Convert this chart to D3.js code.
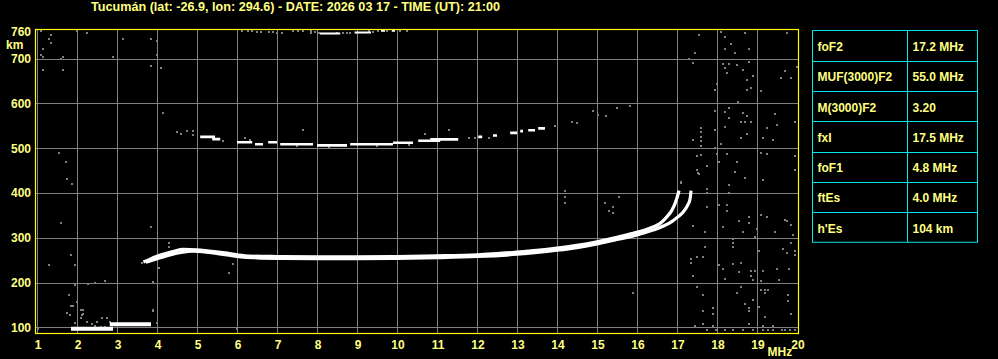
<!DOCTYPE html>
<html><head><meta charset="utf-8">
<script src="https://cdn.jsdelivr.net/npm/d3@7"></script>
<style>
html,body{margin:0;padding:0;background:#000;}
svg{display:block;}
text{font-family:"Liberation Sans",Arial,sans-serif;font-weight:bold;}
</style></head>
<body>
<svg id="c" width="998" height="359"></svg>
<script>
// ---------- data ----------
const title = "Tucumán (lat: -26.9, lon: 294.6) - DATE: 2026 03 17 - TIME (UT): 21:00";
const freqTicks = [1,2,3,4,5,6,7,8,9,10,11,12,13,14,15,16,17,18,19,20];
const heightTicks = [100,200,300,400,500,600,700,760];
const paramNames = ["foF2","MUF(3000)F2","M(3000)F2","fxI","foF1","ftEs","h'Es"];
const paramValues = ["17.2 MHz","55.0 MHz","3.20","17.5 MHz","4.8 MHz","4.0 MHz","104 km"];

// F-layer ordinary trace [MHz, km]
const traceO = [[3.66,246],[3.8,251],[3.95,257],[4.15,263],[4.4,269],[4.65,274],[5.0,273],[5.3,270],[5.7,266],[6.0,262],[6.3,259],[7,258],[8,257.5],[9,257.5],[10,258],[11,259.5],[12,262],[12.5,264.5],[13,268],[13.5,272],[14,277],[14.5,283],[15,291],[15.5,301],[15.9,310],[16.2,317],[16.4,324],[16.58,332],[16.74,346],[16.87,361],[16.95,376],[17.0,389],[17.05,405]];
// F-layer extraordinary trace [MHz, km]
const traceX = [[3.72,245],[4.0,253],[4.3,261],[4.6,267],[4.9,270],[5.3,267],[5.7,262],[6.1,257],[6.5,255],[7,254],[8,253.5],[9,253.5],[10,254],[11,255.5],[12,258],[13,263],[13.5,267],[14,272],[14.5,278],[15.0,286],[15.5,296],[16.0,306],[16.4,317],[16.66,326],[16.87,336],[17.03,347],[17.16,358],[17.27,373],[17.33,388],[17.35,405]];
// sporadic E segments [fStart, fEnd, km]
const esSegments = [[1.85,2.9,97],[2.82,3.85,107]];
// second-hop F echo segments [fStart, fEnd, km]
const f2Segments = [[5.08,5.45,525],[5.38,5.58,520],[6.0,6.38,513],[6.45,6.65,508.5],[6.78,7.0,513],[7.08,7.9,508.5],[8.0,8.75,506],[8.83,9.9,508.5],[9.9,10.4,512],[10.53,11.08,516.5],[10.83,11.53,519.5],[12.03,12.13,525],[12.4,12.5,528],[12.83,13.0,534],[13.08,13.15,538],[13.28,13.45,540],[13.53,13.7,544]];
// third-hop echo segments [fStart, fEnd, km]
const f3Segments = [[8.07,8.58,756],[8.94,9.35,758],[9.6,9.7,762],[9.87,9.95,762]];
// faint echoes / noise [MHz, km]
const noisePts = [
[17.55,753],[18.09,760],[18.2,748],[18.7,757],[19.74,757],[18.34,732],[18.2,722],[18.45,712],[18.8,722],[17.45,712],[17.3,699],[17.39,690],[18.14,688],[18.3,688],[18.49,686],[18.8,692],[18.2,679],[18.24,668],[18.64,675],[18.89,661],[18.74,653],[18.84,634],[18.74,630],[17.95,630],[17.99,643],[19.09,627],[19.7,671],[19.59,656],[19.84,656],[19.99,682],
[18.53,603],[17.95,582],[18.31,589],[18.2,580],[18.31,567],[18.64,578],[18.74,571],[18.6,558],[18.7,558],[18.84,558],[19.45,576],[19.49,552],[19.24,545],[19.95,558],[18.2,546],[18.74,531],[18.6,523],[19.14,523],[19.39,519],[17.6,545],[17.6,535],[17.6,525],[17.6,515],[17.6,505],[17.95,541],[17.4,519],[18.09,509],[17.95,500],
[17.49,483],[17.6,485],[17.99,487],[18.24,487],[19.09,489],[19.24,487],[19.95,483],[18.05,469],[18.49,469],[17.74,461],[17.49,452],[17.55,443],[18.45,447],[19.95,452],[18.7,433],[19.14,429],[17.1,422],[18.3,418],[17.74,409],[17.74,400],[18.3,400],
[17.74,368],[18.05,374],[18.24,374],[18.24,360],[18.8,346],[19.09,351],[19.24,346],[19.7,340],[19.76,337],[19.84,329],[17.39,327],[18.56,337],[18.8,333],[18.14,324],[17.7,312],[18.64,312],[19.0,319],[19.45,312],[19.89,307],[18.95,302],
[18.39,296],[18.39,288],[18.39,279],[17.7,279],[19.84,288],[19.64,275],[19.95,271],[19.74,266],[19.95,262],[19.05,271],[17.49,258],[17.64,257],[17.35,252],[17.35,243],[18.05,240],[18.39,242],[18.59,243],[18.14,231],[18.56,223],[18.84,226],[18.95,226],[19.14,226],[19.49,231],[19.8,231],
[17.39,214],[18.84,214],[18.89,206],[19.09,204],[19.55,206],[18.2,208],[18.6,191],[18.49,177],[17.49,189],[19.09,184],[19.2,184],[19.28,184],[19.2,177],[17.64,173],[19.78,173],[18.89,162],[18.7,153],[18.8,143],[19.05,145],[19.78,158],[17.89,143],[17.89,130],[17.64,136],[18.8,136],[19.2,122],[19.84,130],[17.64,108],[17.45,102],[17.91,104],[18.8,108],[19.16,102],[19.41,104],
[17.74,94],[17.98,94],[18.2,94],[18.41,94],[18.66,94],[18.89,94],[19.16,94],[19.28,94],[19.39,94],[19.62,94],[19.7,94],[19.83,94],[19.95,94],
[14.2,405],[14.2,391],[14.2,378],[15.2,377],[15.39,369],[15.3,360],[15.39,356],[15.55,391],[17.09,425],[17.53,444],[17.74,369],[17.41,326],[15.9,177],
[1.09,762],[1.34,753],[1.3,743],[1.34,735],[1.14,721],[1.09,708],[1.14,704],[1.64,703],[1.6,699],[1.14,674],[1.64,674],[2.01,762],[2.24,758],[3.14,743],[2.89,704],[3.85,743],[3.99,739],[3.99,708],[3.85,684],[4.1,678],
[1.95,194],[2.28,197],[2.45,200],[2.7,203],[1.8,172],[1.85,148],[1.89,147],[1.99,157],[2.1,139],[2.14,129],[1.74,131],[2.1,120],[2.24,112],[2.49,112],[2.62,120],[2.74,120],[2.83,112],[3.89,137],[3.99,109],[1.03,96],[3.89,202],[5.99,96],[1.83,127],[1.95,109],[2.12,127],[2.16,139],[2.37,107],[3.91,139],[2.6,100],[2.7,101],[2.45,103],
[1.55,490],[1.72,468],[1.88,420],[1.75,432],[1.6,332],[1.85,262],[1.95,240],[1.3,240],
[3.84,324],[4.3,289],[4.3,280],[4.05,232],[5.9,241],[5.8,222],[3.62,243],
[4.5,535],[4.6,531],[4.74,539],[4.9,539],[4.9,529],[4.16,579],[7.66,540],[6.2,522],[6.33,518],[5.65,516],[10.7,531],[11.3,540],[11.8,523],[11.95,523],[13.95,550],[14.37,559],[14.5,555],[14.9,583],[15.03,574],[15.22,572],[15.49,590],[15.82,594],[8.3,503],[9.5,504],[10.3,507],[12.3,523],[7.5,505],
[6.13,762],[6.28,762],[6.38,762],[6.49,760],[6.6,760],[6.81,759],[6.91,759],[7.01,757],[7.12,756],[7.39,762],[7.53,762],[7.64,762],[7.85,762],[7.85,756],[7.95,760],[8.06,757],[8.49,757],[8.64,756],[8.74,757],[8.83,758],[8.99,758],[9.31,762],[9.41,760],[9.53,762],[9.74,762],[10.08,762],[10.26,762]
];

// ---------- drawing ----------
const svg = d3.select("#c");
const W = 998, H = 359;
svg.append("rect").attr("width",W).attr("height",H).attr("fill","#000");

const x = d3.scaleLinear().domain([1,20]).range([37,797]);
const y = d3.scaleLinear().domain([100,700]).range([327.3,58.5]);
const plotL = 35.5, plotR = 798.5, plotT = 29.5, plotB = 333.5;
const txt = "#ffff80", grid = "#808080";

// grid
const g = svg.append("g");
g.selectAll("line.v").data(freqTicks.filter(f=>f<20)).enter().append("line")
  .attr("x1",d=>Math.round(x(d))+0.5).attr("x2",d=>Math.round(x(d))+0.5)
  .attr("y1",plotT).attr("y2",plotB).attr("stroke",grid).attr("stroke-width",1);
g.selectAll("line.h").data(heightTicks.filter(h=>h<760)).enter().append("line")
  .attr("y1",d=>Math.round(y(d))+0.5).attr("y2",d=>Math.round(y(d))+0.5)
  .attr("x1",plotL).attr("x2",plotR).attr("stroke",grid).attr("stroke-width",1);

// clip
svg.append("clipPath").attr("id","clip").append("rect")
  .attr("x",plotL).attr("y",plotT).attr("width",plotR-plotL).attr("height",plotB-plotT);
const p = svg.append("g").attr("clip-path","url(#clip)");

// noise
p.selectAll("rect.n").data(noisePts).enter().append("rect")
  .attr("x",d=>Math.round(x(d[0]))-1).attr("y",d=>Math.round(y(d[1]))-1)
  .attr("width",2).attr("height",2).attr("fill",grid);

// segments
function segs(data, w){
  p.selectAll(null).data(data).enter().append("line")
    .attr("x1",d=>x(d[0])).attr("x2",d=>x(d[1]))
    .attr("y1",d=>y(d[2])).attr("y2",d=>y(d[2]))
    .attr("stroke","#fff").attr("stroke-width",w);
}
segs(esSegments,4);
segs(f2Segments,2.6);
segs(f3Segments,2);

// F traces
const line = d3.line().x(d=>x(d[0])).y(d=>y(d[1])).curve(d3.curveMonotoneX);
[traceO, traceX].forEach(t=>{
  p.append("path").attr("d",line(t)).attr("fill","none")
   .attr("stroke","#fff").attr("stroke-width",3.2);
});

// border
svg.append("rect").attr("x",plotL).attr("y",plotT)
  .attr("width",plotR-plotL).attr("height",plotB-plotT)
  .attr("fill","none").attr("stroke","#ffff00").attr("stroke-width",1.2);

// title
svg.append("text").attr("x",91).attr("y",11).attr("fill",txt)
  .attr("font-size",12).attr("textLength",409).attr("lengthAdjust","spacingAndGlyphs")
  .text(title);

// x tick labels
svg.selectAll("text.xt").data(freqTicks).enter().append("text")
  .attr("x",d=>x(d)+1).attr("y",348.5).attr("text-anchor","middle")
  .attr("fill",txt).attr("font-size",12).text(d=>d);
svg.append("text").attr("x",767.5).attr("y",356).attr("fill",txt)
  .attr("font-size",12).text("MHz");

// y tick labels
svg.selectAll("text.yt").data(heightTicks).enter().append("text")
  .attr("x",31).attr("y",d=>y(d)+4.4).attr("text-anchor","end")
  .attr("fill",txt).attr("font-size",12).text(d=>d);
svg.append("text").attr("x",6).attr("y",49).attr("fill",txt)
  .attr("font-size",12).text("km");

// parameter table
const tL = 812.5, tR = 977.5, tMid = 907.5, tT = 30.5, rowH = 30.25;
const tbl = svg.append("g");
tbl.append("rect").attr("x",tL).attr("y",tT).attr("width",tR-tL)
  .attr("height",rowH*paramNames.length).attr("fill","none").attr("stroke","#00e8e8");
tbl.append("line").attr("x1",tMid).attr("x2",tMid).attr("y1",tT).attr("y2",tT+rowH*paramNames.length)
  .attr("stroke","#00e8e8");
tbl.selectAll("line.r").data(paramNames.slice(1)).enter().append("line")
  .attr("x1",tL).attr("x2",tR)
  .attr("y1",(d,i)=>Math.round(tT+rowH*(i+1))+0.5).attr("y2",(d,i)=>Math.round(tT+rowH*(i+1))+0.5)
  .attr("stroke","#00e8e8");
tbl.selectAll("text.pn").data(paramNames).enter().append("text")
  .attr("x",817.5).attr("y",(d,i)=>tT+rowH*i+20.5).attr("fill",txt).attr("font-size",12).text(d=>d);
tbl.selectAll("text.pv").data(paramValues).enter().append("text")
  .attr("x",912.5).attr("y",(d,i)=>tT+rowH*i+20.5).attr("fill",txt).attr("font-size",12).text(d=>d);
</script>
</body></html>
